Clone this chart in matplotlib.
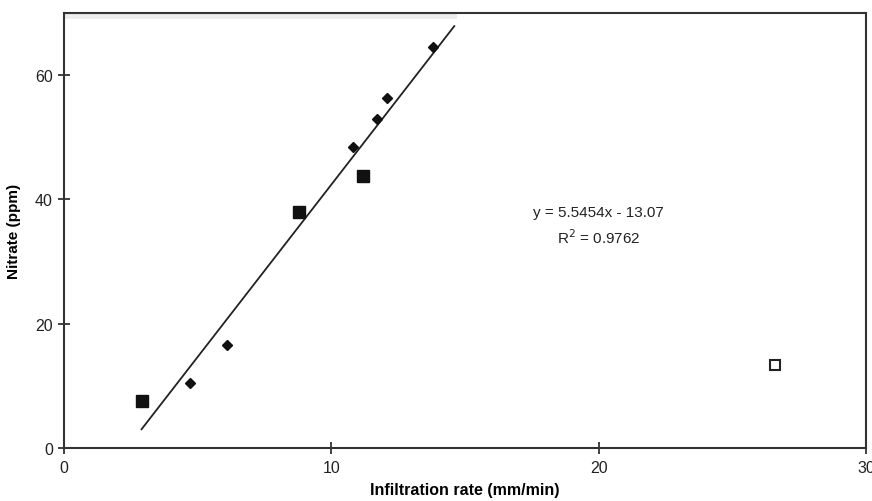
import numpy as np
import matplotlib.pyplot as plt

plt.rcParams['font.family'] = ['Liberation Sans', 'DejaVu Sans']

# filled squares
sq_x = [2.9, 8.8, 11.2]
sq_y = [7.5, 38.0, 43.7]
# diamonds
dm_x = [4.7, 6.1, 10.8, 11.7, 12.1, 13.8]
dm_y = [10.5, 16.5, 48.5, 52.9, 56.4, 64.6]
# outlier, open square
out_x = [26.6]
out_y = [13.4]

slope = 5.5454
intercept = -13.07
r2 = 0.9762
fit_range = [2.9, 14.6]

fig = plt.figure(figsize=(8.72, 5.02), dpi=100)
ax = fig.add_axes([0.0734, 0.1056, 0.9197, 0.8665])

# faint grey strip under the top edge
ax.axhspan(69.0, 69.8, xmin=0, xmax=0.49, color='#ededed', lw=0, zorder=1)

fx = np.array(fit_range)
ax.plot(fx, slope * fx + intercept, color='#222222', lw=1.3, zorder=2)

ax.plot(sq_x, sq_y, 's', color='#111111', ms=8.5, zorder=3)
ax.plot(dm_x, dm_y, 'D', color='#111111', ms=5.2, zorder=3)
ax.plot(out_x, out_y, 's', mfc='white', mec='#222222', mew=1.5, ms=6.5, zorder=3)

ax.text(20.0, 37.9, f'y = {slope}x - {abs(intercept)}', ha='center', va='center',
        fontsize=11, color='#222222')
ax.text(20.0, 34.0, f'R$^2$ = {r2}', ha='center', va='center',
        fontsize=11, color='#222222')

ax.set_xlim(0, 30)
ax.set_ylim(0, 70)
ax.set_xticks([0, 10, 20, 30])
ax.set_yticks([0, 20, 40, 60])
ax.tick_params(direction='inout', length=8, width=1.3, color='#333333',
               labelsize=11.5, labelcolor='#222222')
ax.tick_params(axis='x', pad=5)
ax.tick_params(axis='y', pad=4)

for s in ax.spines.values():
    s.set_linewidth(1.5)
    s.set_color('#333333')

ax.set_xlabel('Infiltration rate (mm/min)', fontsize=11.5, fontweight='bold', labelpad=5)
ax.set_ylabel('Nitrate (ppm)', fontsize=11, fontweight='bold', labelpad=10)

fig.savefig('out.png', dpi=100)
